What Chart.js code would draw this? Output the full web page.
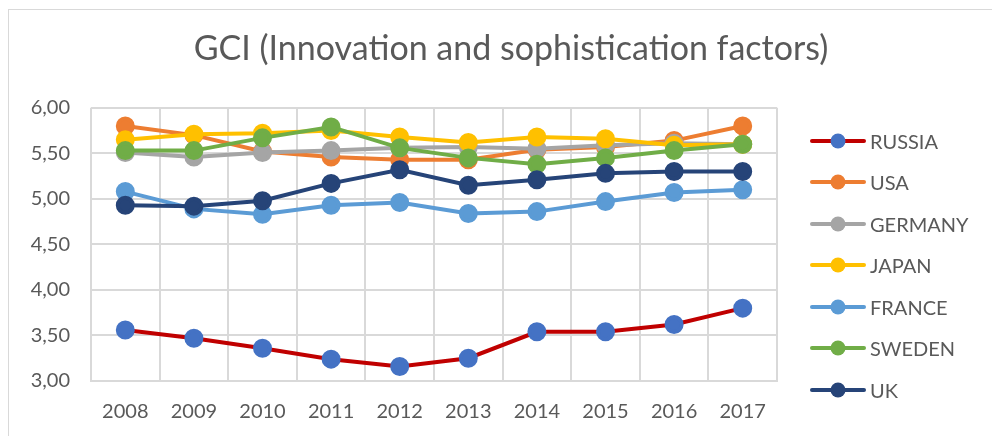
<!DOCTYPE html>
<html>
<head>
<meta charset="utf-8">
<title>GCI (Innovation and sophistication factors)</title>
<script src="https://cdn.jsdelivr.net/npm/chart.js@4.4.1/dist/chart.umd.min.js"></script>
<style>
    body { margin: 0; background: #fff; }
    #wrap { position: relative; width: 992px; height: 436px; overflow: hidden; font-family: Lato, "Open Sans", sans-serif; }
    #frame { position: absolute; left: 8px; top: 9px; width: 1000px; height: 500px; border: 1px solid #d9d9d9; }
    #chart { position: absolute; left: 0; top: 0; }
    #legend { position: absolute; left: 809px; top: 120px; }
    #legend .item { display: flex; align-items: center; height: 41.5px; }
    #legend .item span { margin-left: 3px; font-size: 20px; color: #595959; }
</style>
</head>
<body>
<div id="wrap">
    <div id="frame"></div>
    <canvas id="chart" width="992" height="436"></canvas>
    <div id="legend"></div>
</div>
<script>
// Data
const years = ['2008', '2009', '2010', '2011', '2012', '2013', '2014', '2015', '2016', '2017'];

const russia  = [3.56, 3.47, 3.36, 3.24, 3.16, 3.25, 3.54, 3.54, 3.62, 3.80];
const usa     = [5.80, 5.70, 5.52, 5.46, 5.43, 5.43, 5.54, 5.57, 5.64, 5.80];
const germany = [5.51, 5.46, 5.51, 5.53, 5.56, 5.57, 5.55, 5.59, 5.61, 5.60];
const japan   = [5.65, 5.71, 5.72, 5.75, 5.68, 5.62, 5.68, 5.66, 5.59, 5.60];
const france  = [5.08, 4.89, 4.83, 4.93, 4.96, 4.84, 4.86, 4.97, 5.07, 5.10];
const sweden  = [5.53, 5.53, 5.67, 5.79, 5.56, 5.45, 5.38, 5.45, 5.53, 5.60];
const uk      = [4.93, 4.92, 4.98, 5.17, 5.32, 5.15, 5.21, 5.28, 5.30, 5.30];

const seriesNames = ['RUSSIA', 'USA', 'GERMANY', 'JAPAN', 'FRANCE', 'SWEDEN', 'UK'];
const seriesValues = [russia, usa, germany, japan, france, sweden, uk];
const lineColors = ['#c00000', '#ed7d31', '#a5a5a5', '#ffc000', '#5b9bd5', '#70ad47', '#264478'];
const markerColors = ['#4472c4', '#ed7d31', '#a5a5a5', '#ffc000', '#5b9bd5', '#70ad47', '#264478'];

const yTicks = [3, 3.5, 4, 4.5, 5, 5.5, 6];

const TEXT = '#595959';
const GRID = '#d9d9d9';
const FONT = 'Lato, "Open Sans", sans-serif';

/**
 * Build a small legend symbol: a line with a round marker in the middle
 */
function legendSymbol(lineColor, markerColor) {
    const c = document.createElement('canvas');
    c.width = 58;
    c.height = 18;
    const g = c.getContext('2d');
    g.strokeStyle = lineColor;
    g.lineWidth = 4;
    g.lineCap = 'round';
    g.beginPath();
    g.moveTo(3, 9);
    g.lineTo(55, 9);
    g.stroke();
    g.fillStyle = markerColor;
    g.beginPath();
    g.arc(29, 9, 7.5, 0, Math.PI * 2);
    g.fill();
    return c;
}

/**
 * Legend on the right, one row per series
 */
function buildLegend() {
    const box = document.getElementById('legend');
    seriesNames.forEach((name, i) => {
        const row = document.createElement('div');
        row.className = 'item';
        row.appendChild(legendSymbol(lineColors[i], markerColors[i]));
        const label = document.createElement('span');
        label.textContent = name;
        row.appendChild(label);
        box.appendChild(row);
    });
}

const datasets = seriesNames.map((name, i) => ({
    label: name,
    data: seriesValues[i],
    borderColor: lineColors[i],
    backgroundColor: markerColors[i],
    pointBackgroundColor: markerColors[i],
    pointBorderColor: markerColors[i],
    borderWidth: 4,
    pointRadius: 7.5,
    pointHoverRadius: 7.5,
    tension: 0,
    // later series sit on top, as in the original
    order: seriesNames.length - i
}));

buildLegend();

new Chart(document.getElementById('chart').getContext('2d'), {
    type: 'line',
    data: { labels: years, datasets: datasets },
    options: {
        responsive: false,
        animation: false,
        layout: { padding: { left: 30, right: 0, top: 0, bottom: 0 } },
        plugins: {
            title: {
                display: true,
                text: 'GCI (Innovation and sophistication factors)',
                color: TEXT,
                font: { family: FONT, size: 34, weight: 'normal' },
                padding: { top: 29, bottom: 38 }
            },
            legend: { display: false },
            tooltip: { enabled: false }
        },
        scales: {
            x: {
                offset: true,
                afterFit: axis => { axis.height = 55; },
                grid: { offset: true, color: GRID, lineWidth: 2, drawTicks: false },
                border: { color: GRID, width: 2 },
                ticks: { color: TEXT, font: { family: FONT, size: 20 }, padding: 19 }
            },
            y: {
                min: 3,
                max: 6,
                afterBuildTicks: axis => { axis.ticks = yTicks.map(v => ({ value: v })); },
                afterFit: axis => { axis.width = 61; },
                grid: { color: GRID, lineWidth: 2, drawTicks: false },
                border: { display: false },
                ticks: {
                    color: TEXT,
                    font: { family: FONT, size: 20 },
                    padding: 21,
                    callback: v => v.toFixed(2).replace('.', ',')
                }
            },
            // empty axis that keeps room for the legend on the right
            room: {
                type: 'linear',
                position: 'right',
                afterFit: axis => { axis.width = 215; },
                grid: { display: false },
                border: { display: false },
                ticks: { display: false }
            }
        }
    }
});
</script>
</body>
</html>
